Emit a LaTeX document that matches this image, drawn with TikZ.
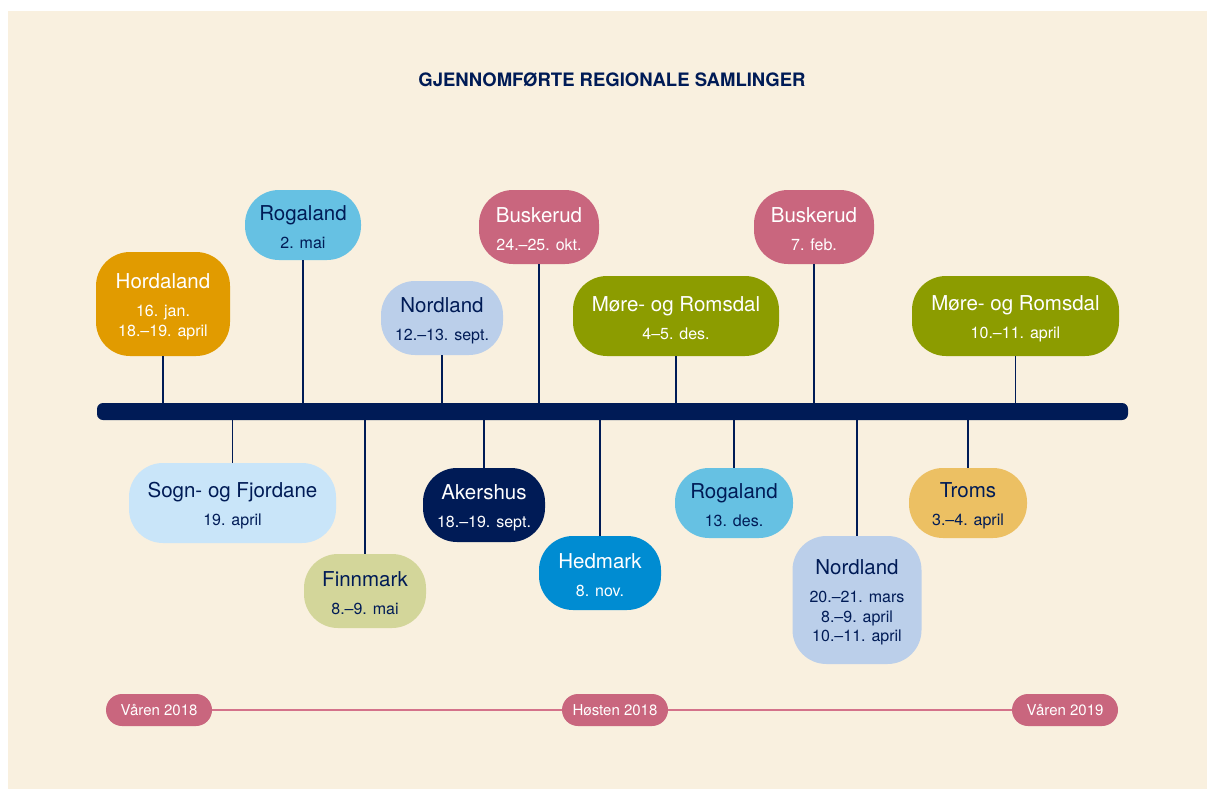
\documentclass[tikz,border=0pt]{standalone}
\usepackage{fontspec}
\setmainfont{TeX Gyre Heros}
\usetikzlibrary{positioning}
\definecolor{bg}{HTML}{F9F0DF}
\definecolor{navy}{HTML}{001B56}
\definecolor{hordcol}{HTML}{E19B00}
\definecolor{rogcol}{HTML}{66C1E3}
\definecolor{nordcol}{HTML}{BBCFEA}
\definecolor{buskcol}{HTML}{C9667E}
\definecolor{morecol}{HTML}{8C9C00}
\definecolor{sogncol}{HTML}{C9E5F9}
\definecolor{finncol}{HTML}{D3D69A}
\definecolor{hedmcol}{HTML}{008CD2}
\definecolor{tromscol}{HTML}{ECC063}
\definecolor{pinkline}{HTML}{D4728A}
\newcommand{\regtext}[2]{{\fontsize{20.5}{24}\selectfont\rule{0pt}{20pt}#1}\\[8.5pt]#2}
\tikzset{
  regbox/.style={rounded corners=34pt, inner sep=0pt, align=center,
    font=\fontsize{16}{19.5}\selectfont},
  lightbox/.style={regbox, text=navy},
  darkbox/.style={regbox, text=white},
  season/.style={fill=buskcol, text=white, rounded corners=16pt, inner sep=0pt,
    minimum width=106pt, minimum height=32pt, font=\fontsize{15}{18}\selectfont},
  stem/.style={draw=navy, line width=1.2pt},
}

\begin{document}
\begin{tikzpicture}[x=1pt,y=-1pt]
\useasboundingbox (0,0) rectangle (1207,789);
\fill[bg] (8,11) rectangle (1207,789);
\node[text=navy, font=\bfseries\fontsize{18.5}{22}\selectfont] (title) at (612,80) {GJENNOMFØRTE REGIONALE SAMLINGER};
% the time line
\node[fill=navy, minimum width=1031pt, minimum height=17pt, inner sep=0pt, rounded corners=6pt] (bar) at (612.5,411.5) {};
% above the line
\node[darkbox, fill=hordcol, minimum width=134pt, minimum height=104pt] (hord) at (163,304) {\regtext{Hordaland}{16. jan.\\18.–19. april}};
\node[lightbox, fill=rogcol, minimum width=116pt, minimum height=70pt] (rogA) at (303,225) {\regtext{Rogaland}{2. mai}};
\node[lightbox, fill=nordcol, minimum width=122pt, minimum height=74pt] (nordA) at (442,318) {\regtext{Nordland}{12.–13. sept.}};
\node[darkbox, fill=buskcol, minimum width=120pt, minimum height=74pt] (buskA) at (539,227) {\regtext{Buskerud}{24.–25. okt.}};
\node[darkbox, fill=morecol, minimum width=206pt, minimum height=80pt] (moreA) at (676,316) {\regtext{Møre- og Romsdal}{4–5. des.}};
\node[darkbox, fill=buskcol, minimum width=120pt, minimum height=74pt] (buskB) at (814,227) {\regtext{Buskerud}{7. feb.}};
\node[darkbox, fill=morecol, minimum width=207pt, minimum height=80pt] (moreB) at (1015.5,316) {\regtext{Møre- og Romsdal}{10.–11. april}};
% below the line
\node[lightbox, fill=sogncol, minimum width=207pt, minimum height=80pt] (sogn) at (232.5,503) {\regtext{Sogn- og Fjordane}{19. april}};
\node[lightbox, fill=finncol, minimum width=122pt, minimum height=74pt] (finn) at (365,591) {\regtext{Finnmark}{8.–9. mai}};
\node[darkbox, fill=navy, minimum width=122pt, minimum height=74pt] (aker) at (484,505) {\regtext{Akershus}{18.–19. sept.}};
\node[darkbox, fill=hedmcol, minimum width=122pt, minimum height=74pt] (hedm) at (600,573) {\regtext{Hedmark}{8. nov.}};
\node[lightbox, fill=rogcol, minimum width=118pt, minimum height=70pt] (rogB) at (734,503) {\regtext{Rogaland}{13. des.}};
\node[lightbox, fill=nordcol, minimum width=129pt, minimum height=128pt] (nordB) at (857,600) {\regtext{Nordland}{20.–21. mars\\8.–9. april\\10.–11. april}};
\node[lightbox, fill=tromscol, minimum width=118pt, minimum height=70pt] (troms) at (968,503) {\regtext{Troms}{3.–4. april}};
\path[stem]
(hord) edge (hord |- bar.north)
(rogA) edge (rogA |- bar.north)
(nordA) edge (nordA |- bar.north)
(buskA) edge (buskA |- bar.north)
(moreA) edge (moreA |- bar.north)
(buskB) edge (buskB |- bar.north)
(moreB) edge (moreB |- bar.north)
(sogn |- bar.south) edge (sogn)
(finn |- bar.south) edge (finn)
(aker |- bar.south) edge (aker)
(hedm |- bar.south) edge (hedm)
(rogB |- bar.south) edge (rogB)
(nordB |- bar.south) edge (nordB)
(troms |- bar.south) edge (troms);
% seasons
\node[season] (vA) at (159,710) {Våren 2018};
\node[season] (host) at (615,710) {Høsten 2018};
\node[season] (vB) at (1065,710) {Våren 2019};
\path[draw=pinkline, line width=1.3pt]
(vA) edge (host)
(host) edge (vB);
\end{tikzpicture}
\end{document}
